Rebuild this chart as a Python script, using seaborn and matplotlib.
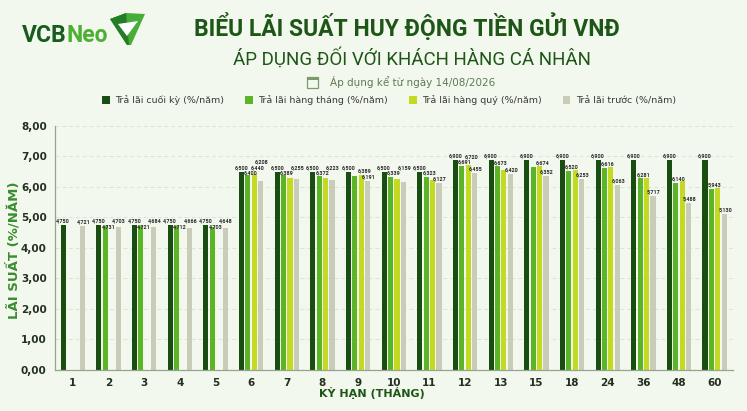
import numpy as np
import pandas as pd
import matplotlib
matplotlib.use("Agg")
import matplotlib.pyplot as plt
import seaborn as sns
from matplotlib.patches import Patch, Polygon, Rectangle
from matplotlib.ticker import FuncFormatter
from matplotlib.transforms import IdentityTransform

# ---- data ----
terms = ["1", "2", "3", "4", "5", "6", "7", "8", "9", "10",
         "11", "12", "13", "15", "18", "24", "36", "48", "60"]
cuoi_ky = [4.750, 4.750, 4.750, 4.750, 4.750, 6.500, 6.500, 6.500, 6.500, 6.500,
           6.500, 6.900, 6.900, 6.900, 6.900, 6.900, 6.900, 6.900, 6.900]
hang_thang = [np.nan, 4.731, 4.721, 4.712, 4.703, 6.400, 6.389, 6.372, 6.356, 6.339,
              6.323, 6.691, 6.673, 6.640, 6.520, 6.616, 6.281, 6.140, 5.943]
hang_quy = [np.nan, np.nan, np.nan, np.nan, np.nan, 6.440, 6.300, 6.290, 6.389, 6.250,
            6.220, 6.720, 6.550, 6.674, 6.560, 6.640, 6.310, 6.190, 5.980]
tra_truoc = [4.721, 4.703, 4.684, 4.666, 4.648, 6.208, 6.255, 6.223, 6.191, 6.159,
             6.127, 6.455, 6.420, 6.352, 6.253, 6.063, 5.717, 5.488, 5.130]

# which value labels are printed in the reference
show_thang = [0, 1, 1, 1, 1, 1, 1, 1, 0, 1, 1, 1, 1, 0, 1, 1, 1, 1, 1]
show_quy = [0, 0, 0, 0, 0, 1, 0, 0, 1, 0, 0, 1, 0, 1, 0, 0, 0, 0, 0]

series_names = ["Trả lãi cuối kỳ (%/năm)", "Trả lãi hàng tháng (%/năm)",
                "Trả lãi hàng quý (%/năm)", "Trả lãi trước (%/năm)"]
palette = ["#1a4d12", "#5cb526", "#c4da22", "#c9ccb9"]

BG = "#f3f8ee"
DARK = "#1d5616"
HEAD_FONT = ["Roboto", "DejaVu Sans"]

df = pd.DataFrame({
    "term": terms * 4,
    "rate": cuoi_ky + hang_thang + hang_quy + tra_truoc,
    "series": [s for s in series_names for _ in terms],
}).dropna()

fig = plt.figure(figsize=(7.47, 4.11), dpi=100, facecolor=BG)
ax = fig.add_axes([0.0736, 0.0998, 0.907, 0.5937])
ax.set_facecolor(BG)

sns.barplot(data=df, x="term", y="rate", hue="series", order=terms,
            hue_order=series_names, palette=palette, width=0.72, gap=0.2,
            legend=False, ax=ax, saturation=1)

ax.set_ylim(0, 8)
ax.set_yticks(range(0, 9))
ax.yaxis.set_major_formatter(FuncFormatter(lambda v, p: f"{v:.2f}".replace(".", ",")))
ax.set_xlim(-0.5, len(terms) - 0.5)
ax.grid(axis="y", color="#dde3d5", linestyle=(0, (4, 3)), linewidth=0.7)
ax.set_axisbelow(True)
for s in ["top", "right"]:
    ax.spines[s].set_visible(False)
for s in ["left", "bottom"]:
    ax.spines[s].set_color("#98a38e")
    ax.spines[s].set_linewidth(0.9)
ax.tick_params(axis="both", length=0, labelsize=7.5, labelcolor="#24301f", pad=6)
for t in ax.get_xticklabels() + ax.get_yticklabels():
    t.set_fontweight("bold")
ax.set_xlabel("")
ax.set_ylabel("")

fig.text(0.498, 1 - 393 / 411, "KỲ HẠN (THÁNG)", ha="center", va="center",
         fontsize=8, fontweight="bold", color=DARK)
fig.text(0.018, 1 - 250 / 411, "LÃI SUẤT (%/NĂM)", ha="center", va="center",
         rotation=90, fontsize=9.5, fontweight="bold", color="#3c8c30")

# titles
fig.text(0.545, 1 - 27 / 411, "BIỂU LÃI SUẤT HUY ĐỘNG TIỀN GỬI VNĐ", ha="center",
         va="center", fontsize=16.5, fontweight="bold", color=DARK, family=HEAD_FONT)
fig.text(0.552, 1 - 58 / 411, "ÁP DỤNG ĐỐI VỚI KHÁCH HÀNG CÁ NHÂN", ha="center",
         va="center", fontsize=13.5, color=DARK, family=HEAD_FONT)
fig.text(0.552, 1 - 82 / 411, "Áp dụng kể từ ngày 14/08/2026", ha="center",
         va="center", fontsize=7.5, color="#5f7a55")

# calendar icon
fig.add_artist(Rectangle((307 / 747, 1 - 88 / 411), 11 / 747, 11 / 411,
                         fill=False, edgecolor="#7d9a6e", linewidth=0.9))
fig.add_artist(Rectangle((307 / 747, 1 - 80 / 411), 11 / 747, 3 / 411,
                         color="#7d9a6e", linewidth=0))

# legend
handles = [Patch(facecolor=c, edgecolor="none") for c in palette]
fig.legend(handles, series_names, loc="center", bbox_to_anchor=(0.521, 1 - 100 / 411),
           ncol=4, frameon=False, fontsize=6.8, handlelength=0.8, handleheight=0.9,
           handletextpad=0.6, columnspacing=2.2, labelcolor="#3a3a3a")

# logo
t1 = fig.text(22 / 747, 1 - 35 / 411, "VCB", ha="left", va="center", fontsize=16.5,
              fontweight="bold", color="#175c1c", family=HEAD_FONT)
fig.canvas.draw()
bb = t1.get_window_extent()
fig.text(bb.x1 / (7.47 * 100), 1 - 35 / 411, "Neo", ha="left", va="center",
         fontsize=16.5, fontweight="bold", color="#4cb032", family=HEAD_FONT)
to_fig = lambda pts: [(x / 747, 1 - y / 411) for x, y in pts]
fig.add_artist(Polygon(to_fig([(110, 19), (126, 13), (145, 14), (131, 45), (127, 45)]),
                       closed=True, color="#47ad38", linewidth=0))
fig.add_artist(Polygon(to_fig([(110, 19), (126, 13), (129, 45), (127, 45)]),
                       closed=True, color="#237d27", linewidth=0))
fig.add_artist(Polygon(to_fig([(118, 24), (138, 21), (127, 36)]),
                       closed=True, color="white", linewidth=0))

# ---- value labels, staggered so they don't collide ----
fmt = lambda v: f"{v:.3f}".replace(".", ",")
shows = [[1] * len(terms), show_thang, show_quy, [1] * len(terms)]
all_vals = [cuoi_ky, hang_thang, hang_quy, tra_truoc]
xshift = [0, 3, 3, 1]

tops = {}
for k, cont in enumerate(ax.containers):
    for bar in cont:
        i = int(round(bar.get_x() + bar.get_width() / 2))
        tops[(k, i)] = (bar.get_x() + bar.get_width() / 2, bar.get_height())

fig.canvas.draw()
renderer = fig.canvas.get_renderer()
placed = []
for i in range(len(terms)):
    dark_bottom = None
    for k in range(4):
        v = all_vals[k][i]
        if np.isnan(v) or not shows[k][i]:
            continue
        cx, h = tops[(k, i)]
        px, py = ax.transData.transform((cx, h))
        px += xshift[k]
        t = ax.text(px, py + 1.5, fmt(v), transform=IdentityTransform(),
                    ha="center", va="bottom", fontsize=3.9, fontweight="bold",
                    color="#2b2b2b", family=HEAD_FONT)
        ext = t.get_window_extent(renderer)
        w, hh = ext.width, ext.height
        bottom = py + 1.5
        box = lambda b: (px - w / 2, b, px + w / 2, b + hh)
        hits = lambda b: [p for p in placed
                          if box(b)[0] < p[2] and box(b)[2] > p[0]
                          and box(b)[1] < p[3] and box(b)[3] > p[1]]
        if k == 1 and dark_bottom is not None and hits(bottom):
            bottom = dark_bottom - hh - 0.5
        else:
            for _ in range(6):
                hl = hits(bottom)
                if not hl:
                    break
                bottom = max(p[3] for p in hl) + 0.5
        t.set_position((px, bottom))
        placed.append(box(bottom))
        if k == 0:
            dark_bottom = bottom

fig.savefig("out.png", dpi=100, facecolor=BG)
